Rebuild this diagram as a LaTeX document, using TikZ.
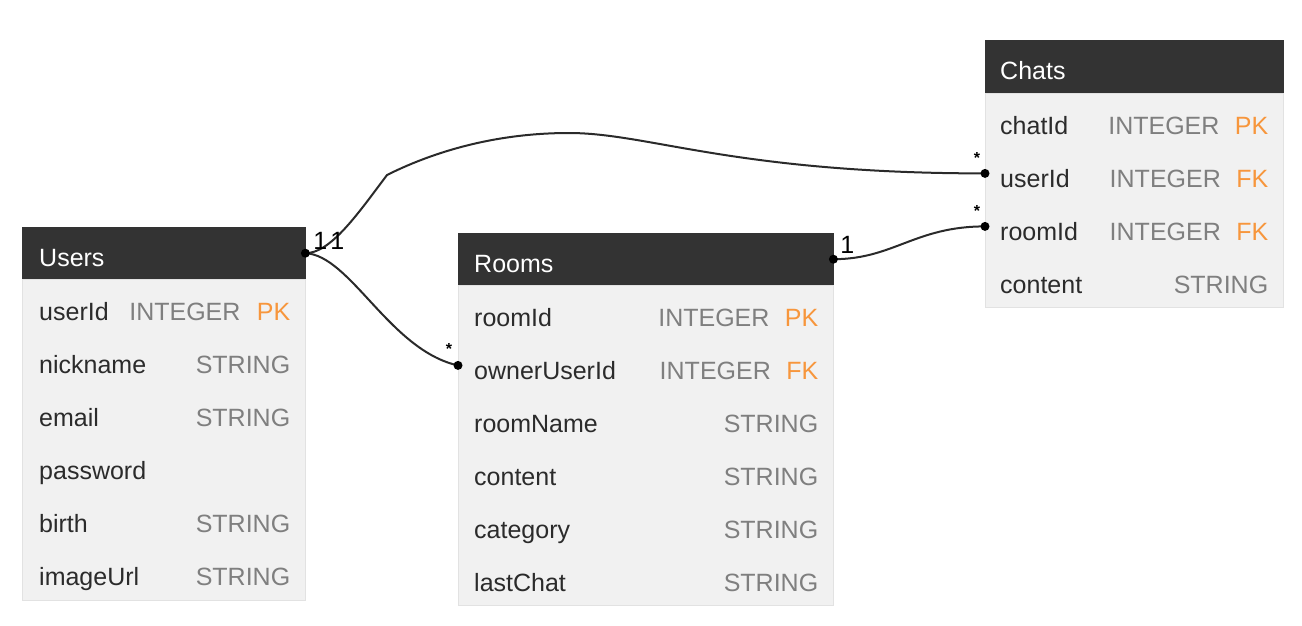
\documentclass[tikz,border=0pt]{standalone}
\usepackage{fontspec}
\setmainfont{Liberation Sans}
\usepackage{xcolor}
\usetikzlibrary{positioning}
\definecolor{hdr}{HTML}{333333}
\definecolor{bodybg}{HTML}{F1F1F1}
\definecolor{edge}{HTML}{E2E2E2}
\definecolor{fldtext}{HTML}{2B2B2B}
\definecolor{typtext}{HTML}{7F7F7F}
\definecolor{keytext}{HTML}{F7963C}
\definecolor{linec}{HTML}{2A2A2A}

\begin{document}
\begin{tikzpicture}
        [ x=1pt, y=-1pt
        , node distance=53pt
        , font=\fontsize{25}{30}\selectfont
        , thead/.style={anchor=north west, fill=hdr, draw=hdr, minimum height=52pt, inner sep=0pt}
        , tbody/.style={anchor=north, fill=bodybg, draw=edge, inner sep=0pt}
        , ttl/.style={anchor=west, text=white, inner sep=0pt, text height=18pt, text depth=0pt, yshift=-4pt}
        , fld/.style={anchor=west, text=fldtext, inner sep=0pt, text height=24pt, text depth=5pt}
        , typ/.style={anchor=east, text=typtext, inner sep=0pt, text height=24pt, text depth=5pt}
        , keycol/.style={typ, text=keytext}
        , rel/.style={draw=linec, line width=2pt}
        , enddot/.style={fill=black}
        , mult/.style={inner sep=0pt, text=black}
        , many/.style={inner sep=0pt, text=black, font=\fontsize{16}{18}\selectfont\bfseries}
        ]
        \useasboundingbox (0,0) rectangle (1302,625);

        % Users
        \node (uh) [thead, minimum width=283pt] at (22,227) {};
        \node (ut) [ttl, right=17pt of uh.west] {Users};
        \node (ub) [tbody, minimum width=283pt, minimum height=321pt, below=0pt of uh] {};
            \node (u1) [below right=32pt and 17pt of uh.south west, fld] {userId};
            \node (u2) [below=of u1.west, fld] {nickname};
            \node (u3) [below=of u2.west, fld] {email};
            \node (u4) [below=of u3.west, fld] {password};
            \node (u5) [below=of u4.west, fld] {birth};
            \node (u6) [below=of u5.west, fld] {imageUrl};
            \node (u1k) [keycol] at ([xshift=-15pt]u1.west -| ub.east) {PK};
            \node (u1t) [typ, left=16pt of u1k] {INTEGER};
            \node (u2t) [typ] at ([xshift=-15pt]u2.west -| ub.east) {STRING};
            \node (u3t) [typ] at ([xshift=-15pt]u3.west -| ub.east) {STRING};
            \node (u5t) [typ] at ([xshift=-15pt]u5.west -| ub.east) {STRING};
            \node (u6t) [typ] at ([xshift=-15pt]u6.west -| ub.east) {STRING};

        % Rooms
        \node (rh) [thead, minimum width=375pt] at (458,233) {};
        \node (rt) [ttl, right=16pt of rh.west] {Rooms};
        \node (rb) [tbody, minimum width=375pt, minimum height=320pt, below=0pt of rh] {};
            \node (r1) [below right=32pt and 16pt of rh.south west, fld] {roomId};
            \node (r2) [below=of r1.west, fld] {ownerUserId};
            \node (r3) [below=of r2.west, fld] {roomName};
            \node (r4) [below=of r3.west, fld] {content};
            \node (r5) [below=of r4.west, fld] {category};
            \node (r6) [below=of r5.west, fld] {lastChat};
            \node (r1k) [keycol] at ([xshift=-15pt]r1.west -| rb.east) {PK};
            \node (r1t) [typ, left=15pt of r1k] {INTEGER};
            \node (r2k) [keycol] at ([xshift=-15pt]r2.west -| rb.east) {FK};
            \node (r2t) [typ, left=15pt of r2k] {INTEGER};
            \node (r3t) [typ] at ([xshift=-15pt]r3.west -| rb.east) {STRING};
            \node (r4t) [typ] at ([xshift=-15pt]r4.west -| rb.east) {STRING};
            \node (r5t) [typ] at ([xshift=-15pt]r5.west -| rb.east) {STRING};
            \node (r6t) [typ] at ([xshift=-15pt]r6.west -| rb.east) {STRING};

        % Chats
        \node (ch) [thead, minimum width=298pt, minimum height=53pt] at (985,40) {};
        \node (ct) [ttl, right=15pt of ch.west] {Chats};
        \node (cb) [tbody, minimum width=298pt, minimum height=214pt, below=0pt of ch] {};
            \node (c1) [below right=32pt and 15pt of ch.south west, fld] {chatId};
            \node (c2) [below=of c1.west, fld] {userId};
            \node (c3) [below=of c2.west, fld] {roomId};
            \node (c4) [below=of c3.west, fld] {content};
            \node (c1k) [keycol] at ([xshift=-15pt]c1.west -| cb.east) {PK};
            \node (c1t) [typ, left=15pt of c1k] {INTEGER};
            \node (c2k) [keycol] at ([xshift=-15pt]c2.west -| cb.east) {FK};
            \node (c2t) [typ, left=15pt of c2k] {INTEGER};
            \node (c3k) [keycol] at ([xshift=-15pt]c3.west -| cb.east) {FK};
            \node (c3t) [typ, left=15pt of c3k] {INTEGER};
            \node (c4t) [typ] at ([xshift=-15pt]c4.west -| cb.east) {STRING};

        % relations
        \coordinate[yshift=5pt] (roIn) at (r2.west -| rb.west);
        \coordinate[yshift=5pt] (cuIn) at (c2.west -| cb.west);
        \coordinate[yshift=5pt] (ciIn) at (c3.west -| cb.west);

        \draw[rel] (uh.east) .. controls +(25,0) and +(-30,40) .. (387,175)
            .. controls +(40,-20) and +(-80,0) .. (569,133)
            .. controls +(80,0) and +(-250,0) .. (cuIn);
        \draw[rel] (uh.east) .. controls +(45,2) and +(-68,-15) .. (roIn);
        \draw[rel] (rh.east) .. controls +(60,0) and +(-70,0) .. (ciIn);

        \fill[enddot] (uh.east) circle (4.5pt);
        \fill[enddot] (rh.east) circle (4.5pt);
        \fill[enddot] (roIn) circle (4.5pt);
        \fill[enddot] (cuIn) circle (4.5pt);
        \fill[enddot] (ciIn) circle (4.5pt);

        \node (m1) [mult] at ([xshift=15pt, yshift=12pt]uh.east) {1};
        \node (m2) [mult] at ([xshift=32pt, yshift=12pt]uh.east) {1};
        \node (m3) [mult] at ([xshift=14pt, yshift=14pt]rh.east) {1};
        \node (s1) [many] at ([xshift=-9pt, yshift=16pt]roIn) {*};
        \node (s2) [many] at ([xshift=-8pt, yshift=15pt]cuIn) {*};
        \node (s3) [many] at ([xshift=-8pt, yshift=15pt]ciIn) {*};

    \end{tikzpicture}
\end{document}
